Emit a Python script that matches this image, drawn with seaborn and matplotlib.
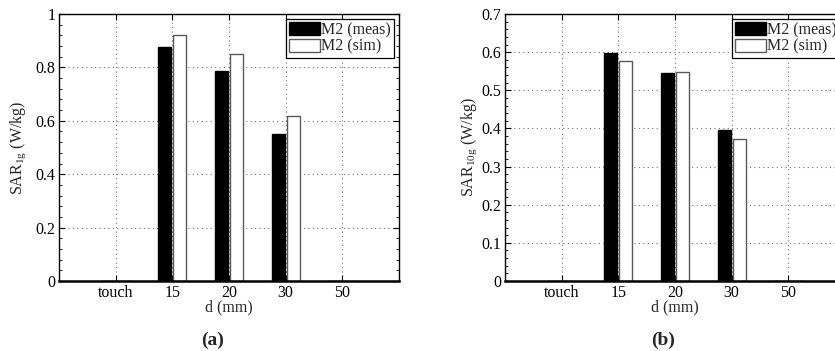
import matplotlib
matplotlib.use("Agg")
import matplotlib.pyplot as plt
from matplotlib.ticker import MultipleLocator, FixedLocator
import seaborn as sns
import pandas as pd

# Separation distances and the two data series per panel
distances = ["touch", "15", "20", "30", "50"]
series_names = ["M2 (meas)", "M2 (sim)"]
sar1g_meas = [0.0, 0.878, 0.786, 0.551, 0.0]
sar1g_sim = [0.0, 0.921, 0.849, 0.619, 0.0]
sar10g_meas = [0.0, 0.599, 0.545, 0.396, 0.0]
sar10g_sim = [0.0, 0.578, 0.548, 0.373, 0.0]

sns.set_theme(style="ticks")
plt.rcParams["font.family"] = ["Liberation Serif", "DejaVu Serif"]
plt.rcParams["mathtext.fontset"] = "custom"
plt.rcParams["mathtext.rm"] = "Liberation Serif"
plt.rcParams["mathtext.it"] = "Liberation Serif:italic"
plt.rcParams["mathtext.bf"] = "Liberation Serif:bold"

FS = 11.5


def long_table(meas, sim):
    rows = []
    for name, vals in zip(series_names, [meas, sim]):
        for d, v in zip(distances, vals):
            rows.append({"d": d, "sar": v, "series": name})
    return pd.DataFrame(rows)


fig = plt.figure(figsize=(8.35, 3.51), dpi=100)
ax_w = 340 / 835
ax_h = 267 / 351
ax_b = 70 / 351
ax_a = fig.add_axes([59 / 835, ax_b, ax_w, ax_h])
ax_bb = fig.add_axes([505 / 835, ax_b, ax_w, ax_h])

panels = [
    (ax_a, sar1g_meas, sar1g_sim, 1.0, 0.2, 0.04,
     r"SAR$_{\mathrm{1g}}$ (W/kg)", ["0", "0.2", "0.4", "0.6", "0.8", "1"], -0.091, "(a)", 213),
    (ax_bb, sar10g_meas, sar10g_sim, 0.7, 0.1, 0.02,
     r"SAR$_{\mathrm{10g}}$ (W/kg)", ["0", "0.1", "0.2", "0.3", "0.4", "0.5", "0.6", "0.7"], -0.076, "(b)", 663),
]

for ax, meas, sim, ymax, major, minor, ylab, yticklabels, ylab_x, tag, tag_x in panels:
    df = long_table(meas, sim)
    sns.barplot(data=df, x="d", y="sar", hue="series", order=distances,
                hue_order=series_names, palette=["black", "white"],
                width=0.54, gap=0.15, linewidth=1.0, legend=False, ax=ax)
    for patch in ax.containers[0]:
        patch.set_edgecolor("black")
    for patch in ax.containers[1]:
        patch.set_edgecolor("0.35")

    ax.set_xlim(-1, 5)
    ax.set_ylim(0, ymax)
    ax.yaxis.set_major_locator(MultipleLocator(major))
    ax.yaxis.set_minor_locator(MultipleLocator(minor))
    ax.set_yticks([i * major for i in range(len(yticklabels))])
    ax.set_yticklabels(yticklabels)
    ax.xaxis.set_major_locator(FixedLocator(range(len(distances))))
    ax.set_xticklabels(distances)

    ax.tick_params(axis="both", which="both", direction="in", top=True, right=True,
                   labelsize=FS, colors="black")
    ax.tick_params(axis="both", which="major", length=4, width=0.8)
    ax.tick_params(axis="y", which="minor", length=2, width=0.6)
    ax.tick_params(axis="x", which="major", pad=3)
    ax.tick_params(axis="y", which="major", pad=2.5)

    ax.grid(True, which="major", linestyle=(0, (1, 3)), color="0.45", linewidth=0.8)
    ax.set_axisbelow(True)
    for side in ["left", "right", "top"]:
        ax.spines[side].set_linewidth(1.0)
        ax.spines[side].set_color("black")
    ax.spines["bottom"].set_linewidth(1.8)
    ax.spines["bottom"].set_color("black")

    ax.set_xlabel("d (mm)", fontsize=FS, labelpad=-1)
    ax.set_ylabel(ylab, fontsize=FS)
    ax.yaxis.set_label_coords(ylab_x, 0.5)

    leg = ax.legend(handles=[ax.containers[0][0], ax.containers[1][0]],
                    labels=series_names, loc="upper right", bbox_to_anchor=(1.0, 1.0),
                    borderaxespad=0.3, fontsize=FS, fancybox=False, framealpha=1,
                    edgecolor="black", handlelength=1.9, handleheight=0.85,
                    handletextpad=0.1, labelspacing=0.05, borderpad=0.2)
    leg.get_frame().set_linewidth(0.9)

    fig.text(tag_x / 835, 1 - 340 / 351, tag, fontsize=14, fontweight="bold",
             ha="center", va="center")

fig.savefig("out.png", dpi=100)
